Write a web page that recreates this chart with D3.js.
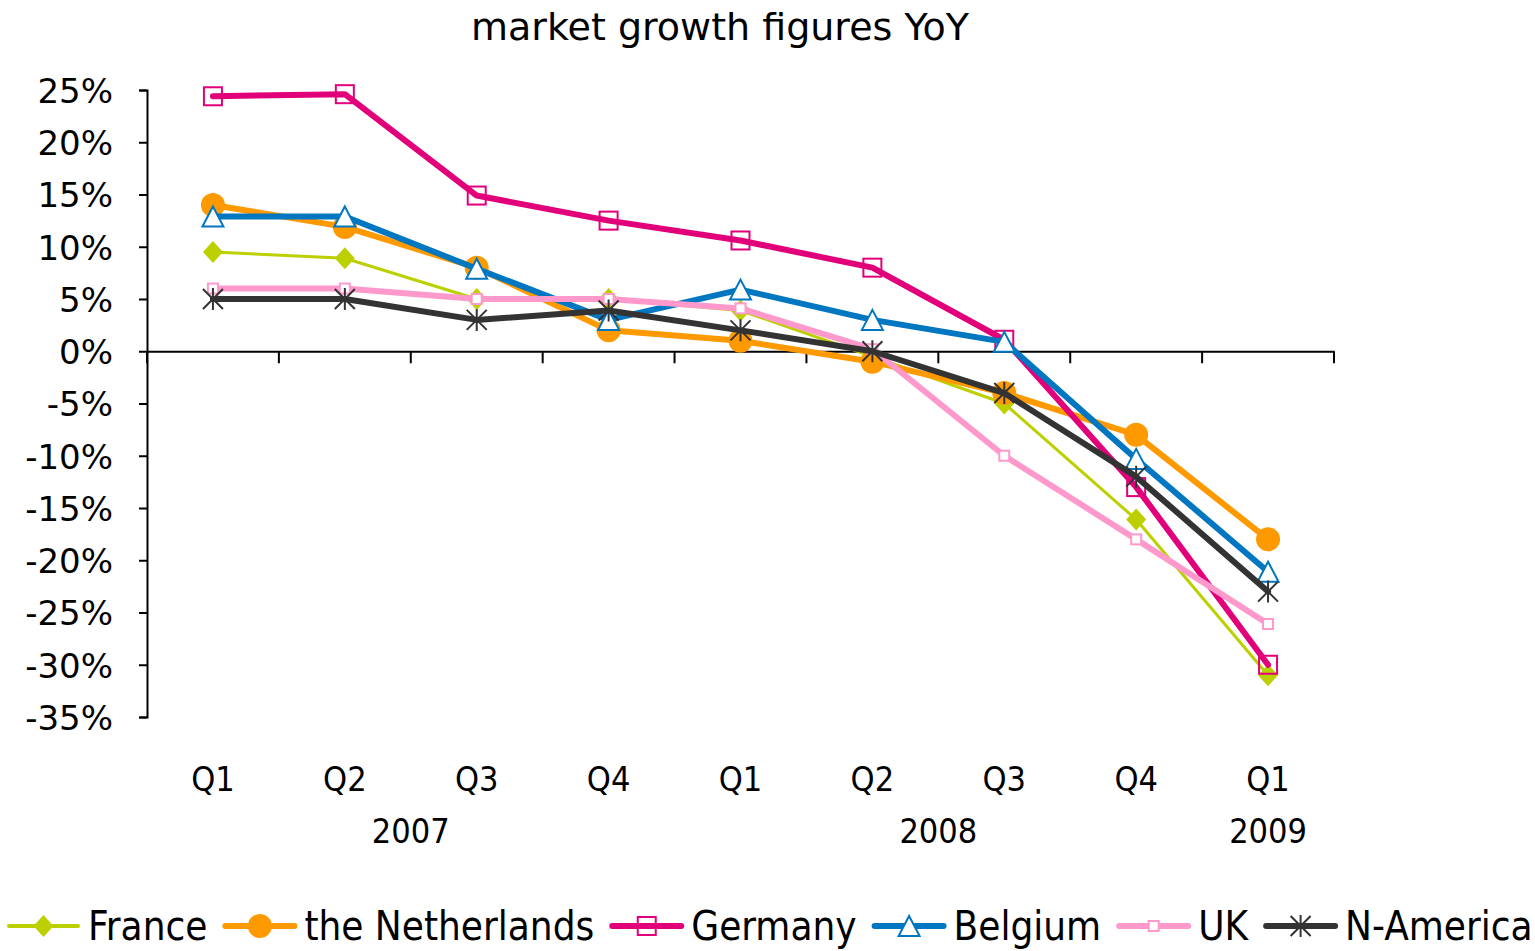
<!DOCTYPE html>
<html>
<head>
<meta charset="utf-8">
<script src="https://cdn.jsdelivr.net/npm/d3@7"></script>
<style>
  body { margin: 0; background: #fff; }
  #chart svg { display: block; }
  .lbl { font-family: "DejaVu Sans", sans-serif; fill: #000; }
  .cond { font-stretch: condensed; }
</style>
</head>
<body>
<div id="chart"></div>
<script>
// categories
var quarters = ["Q1", "Q2", "Q3", "Q4", "Q1", "Q2", "Q3", "Q4", "Q1"];
var yearLabels = ["2007", "2008", "2009"];
var yearSpans = [4, 4, 1];
var yTicks = [25, 20, 15, 10, 5, 0, -5, -10, -15, -20, -25, -30, -35];

// series values (% YoY)
var france      = [9.5, 8.9, 5.0, 5.0, 3.9, -0.5, -5.0, -16.1, -31.0];
var netherlands = [14.0, 11.9, 8.0, 2.0, 1.0, -1.0, -4.0, -8.0, -18.0];
var germany     = [24.4, 24.6, 14.9, 12.5, 10.6, 8.0, 1.1, -13.0, -30.0];
var belgium     = [12.9, 12.9, 7.9, 3.0, 5.9, 3.0, 0.9, -10.3, -21.1];
var uk          = [6.0, 6.0, 5.0, 5.0, 4.1, 0.2, -10.0, -18.0, -26.1];
var nAmerica    = [5.0, 5.0, 3.0, 3.9, 2.0, 0.0, -4.0, -12.0, -23.0];

var seriesNames = ["France", "the Netherlands", "Germany", "Belgium", "UK", "N-America"];

var series = [
  {name: seriesNames[0], values: france,      color: "#bcd000", width: 3, marker: "diamond"},
  {name: seriesNames[1], values: netherlands, color: "#ff9900", width: 6, marker: "circle"},
  {name: seriesNames[2], values: germany,     color: "#e2007a", width: 6, marker: "square"},
  {name: seriesNames[3], values: belgium,     color: "#0077c0", width: 6, marker: "triangle"},
  {name: seriesNames[4], values: uk,          color: "#ff99cc", width: 6, marker: "smallsquare"},
  {name: seriesNames[5], values: nAmerica,    color: "#333333", width: 6, marker: "star"}
];

var W = 1535, H = 951;
var plotLeft = 147, plotRight = 1334, plotTop = 90, plotBottom = 717;

var svg = d3.select("#chart").append("svg")
    .attr("width", W)
    .attr("height", H);

var x = d3.scaleBand()
    .domain(d3.range(quarters.length))
    .range([plotLeft, plotRight]);

var y = d3.scaleLinear()
    .domain([-35, 25])
    .range([plotBottom, plotTop]);

// title
svg.append("text")
    .attr("class", "lbl")
    .attr("x", 720)
    .attr("y", 40)
    .attr("text-anchor", "middle")
    .style("font-size", "38px")
    .text("market growth figures YoY");

// y axis
var yAxis = d3.axisLeft(y)
    .tickValues(yTicks)
    .tickSize(8)
    .tickPadding(26)
    .tickFormat(function(d) { return d + "%"; });

var gy = svg.append("g")
    .attr("transform", "translate(" + plotLeft + ",0)")
    .call(yAxis);
gy.select(".domain").attr("stroke", "#000").attr("stroke-width", 2);
gy.selectAll(".tick line").attr("stroke", "#000").attr("stroke-width", 2);
gy.selectAll(".tick text")
    .attr("class", "lbl")
    .attr("dy", "0.36em")
    .style("font-size", "34px");

// x axis at 0%
var xAxis = d3.axisBottom(x)
    .tickSize(0)
    .tickFormat("");
var gx = svg.append("g")
    .attr("transform", "translate(0," + y(0) + ")")
    .call(xAxis);
gx.select(".domain").attr("stroke", "#000").attr("stroke-width", 2);

// boundary ticks between categories
var bounds = d3.range(quarters.length + 1).map(function(i) {
  return i < quarters.length ? x(i) : x.range()[1];
});
gx.selectAll(".bound")
    .data(bounds)
  .enter().append("line")
    .attr("x1", function(d) { return d; })
    .attr("x2", function(d) { return d; })
    .attr("y1", 0)
    .attr("y2", 12)
    .attr("stroke", "#000")
    .attr("stroke-width", 2);

// quarter labels
svg.selectAll(".qlbl")
    .data(quarters)
  .enter().append("text")
    .attr("class", "lbl cond")
    .attr("x", function(d, i) { return x(i) + x.bandwidth() / 2; })
    .attr("y", 791)
    .attr("text-anchor", "middle")
    .style("font-size", "34px")
    .text(function(d) { return d; });

// year labels, centered over their quarters
var start = 0;
yearLabels.forEach(function(yr, k) {
  var x0 = x(start), x1 = x(start + yearSpans[k] - 1) + x.bandwidth();
  svg.append("text")
      .attr("class", "lbl cond")
      .attr("x", (x0 + x1) / 2)
      .attr("y", 843)
      .attr("text-anchor", "middle")
      .style("font-size", "34px")
      .text(yr);
  start += yearSpans[k];
});

// marker drawing
function drawMarker(g, type, color) {
  if (type === "diamond") {
    g.append("path").attr("d", "M0,-11L10,0L0,11L-10,0Z").attr("fill", color);
  } else if (type === "circle") {
    g.append("circle").attr("r", 12).attr("fill", color);
  } else if (type === "square") {
    g.append("rect").attr("x", -9).attr("y", -9).attr("width", 18).attr("height", 18)
      .attr("fill", "none").attr("stroke", color).attr("stroke-width", 2);
  } else if (type === "triangle") {
    g.append("path").attr("d", "M0,-10L10.5,10L-10.5,10Z")
      .attr("fill", "#fff").attr("stroke", color).attr("stroke-width", 2);
  } else if (type === "smallsquare") {
    g.append("rect").attr("x", -5).attr("y", -5).attr("width", 10).attr("height", 10)
      .attr("fill", "#fff").attr("stroke", color).attr("stroke-width", 2);
  } else if (type === "star") {
    g.append("path").attr("d", "M0,-11L0,11M-10,-10L10,10M-10,10L10,-10")
      .attr("fill", "none").attr("stroke", color).attr("stroke-width", 2);
  }
}

var line = d3.line()
    .x(function(d, i) { return x(i) + x.bandwidth() / 2; })
    .y(function(d) { return y(d); });

series.forEach(function(s) {
  var g = svg.append("g");
  g.append("path")
      .datum(s.values)
      .attr("d", line)
      .attr("fill", "none")
      .attr("stroke", s.color)
      .attr("stroke-width", s.width)
      .attr("stroke-linejoin", "round")
      .attr("stroke-linecap", "round");
  g.selectAll(".m")
      .data(s.values)
    .enter().append("g")
      .attr("transform", function(d, i) {
        return "translate(" + (x(i) + x.bandwidth() / 2) + "," + y(d) + ")";
      })
      .each(function() { drawMarker(d3.select(this), s.marker, s.color); });
});

// legend
var legend = svg.append("g");
var lx = 9, ly = 926;
series.forEach(function(s) {
  var item = legend.append("g");
  item.append("line")
      .attr("x1", lx).attr("x2", lx + 69)
      .attr("y1", ly).attr("y2", ly)
      .attr("stroke", s.color)
      .attr("stroke-width", s.width === 3 ? 4 : 6)
      .attr("stroke-linecap", "round");
  var m = item.append("g").attr("transform", "translate(" + (lx + 34.5) + "," + ly + ")");
  drawMarker(m, s.marker, s.color);
  var t = item.append("text")
      .attr("class", "lbl cond")
      .attr("x", lx + 79)
      .attr("y", 940)
      .style("font-size", "40px")
      .text(s.name);
  lx = lx + 79 + t.node().getComputedTextLength() + 18;
});
</script>
</body>
</html>
